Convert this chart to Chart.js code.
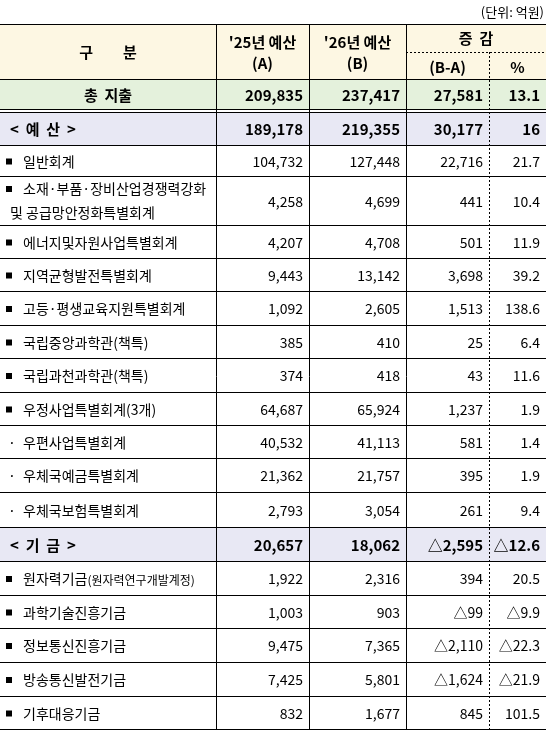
<!DOCTYPE html>
<html><head><meta charset="utf-8">
<script src="https://cdn.jsdelivr.net/npm/chart.js@4"></script>
<style>html,body{margin:0;padding:0;background:#fff}canvas{display:block}</style>
</head><body>
<canvas id="c" width="547" height="730"></canvas>
<script>
// ---- data ----
const categories = ["총  지출","<  예  산  >","일반회계","소재·부품·장비산업경쟁력강화|및 공급망안정화특별회계","에너지및자원사업특별회계","지역균형발전특별회계","고등·평생교육지원특별회계","국립중앙과학관(책특)","국립과천과학관(책특)","우정사업특별회계(3개)","우편사업특별회계","우체국예금특별회계","우체국보험특별회계","<  기  금  >","원자력기금","과학기술진흥기금","정보통신진흥기금","방송통신발전기금","기후대응기금"];
const budget25 = ["209,835","189,178","104,732","4,258","4,207","9,443","1,092","385","374","64,687","40,532","21,362","2,793","20,657","1,922","1,003","9,475","7,425","832"];
const budget26 = ["237,417","219,355","127,448","4,699","4,708","13,142","2,605","410","418","65,924","41,113","21,757","3,054","18,062","2,316","903","7,365","5,801","1,677"];
const diffBA = ["27,581","30,177","22,716","441","501","3,698","1,513","25","43","1,237","581","395","261","△2,595","394","△99","△2,110","△1,624","845"];
const diffPct = ["13.1","16","21.7","10.4","11.9","39.2","138.6","6.4","11.6","1.9","1.4","1.9","9.4","△12.6","20.5","△9.9","△22.3","△21.9","101.5"];
const headers = ["구　　분","'25년 예산|(A)","'26년 예산|(B)","증  감","(B-A)","%"];
const unitLabel = "(단위: 억원)";
const rowKind = ["t","s","b","b","b","b","b","b","b","b","d","d","d","s","b","b","b","b","b"];
// ---- layout ----
const colEdges = [0,216,309,406,489,546];
const rowEdges = [24,79,109,145,176,225,258,291,325,358,392,425,458,492,527,561,595,628,662,696,729];
const FONT = '"Noto Sans CJK KR","Noto Sans",sans-serif';

const tablePlugin = {
  id:'table',
  afterDraw(chart){
    const ctx = chart.ctx, X = chart.scales.x, Y = chart.scales.y;
    const px = v => X.getPixelForValue(v), py = v => Y.getPixelForValue(v);
    ctx.save();
    ctx.fillStyle = '#fdf7e3';
    ctx.fillRect(px(0), py(24), px(546)-px(0), py(79)-py(24));
    for (let i=0;i<categories.length;i++){
      let top = rowEdges[i+1], bot = rowEdges[i+2];
      if (i===1) top = 112;
      const k = rowKind[i];
      if (k==='t') ctx.fillStyle = '#e4f1dc';
      else if (k==='s') ctx.fillStyle = '#e8e8f4';
      else continue;
      ctx.fillRect(px(0), py(top), px(546)-px(0), py(bot)-py(top));
    }
    ctx.strokeStyle = '#000'; ctx.lineWidth = 1;
    const hline = (y,x0,x1)=>{ctx.beginPath();ctx.moveTo(px(x0),Math.round(py(y))+0.5);ctx.lineTo(px(x1),Math.round(py(y))+0.5);ctx.stroke();};
    const vline = (x,y0,y1)=>{ctx.beginPath();ctx.moveTo(Math.round(px(x))+0.5,py(y0));ctx.lineTo(Math.round(px(x))+0.5,py(y1));ctx.stroke();};
    rowEdges.forEach(y=>hline(y,0,546));
    hline(112,0,546);
    [216,309,406].forEach(x=>vline(x,24,729));
    ctx.setLineDash([2,2]);
    hline(52,406,546);
    vline(489,52,729);
    ctx.setLineDash([]);
    ctx.fillStyle = '#000'; ctx.textBaseline = 'middle';
    ctx.font = '13px '+FONT; ctx.textAlign = 'right';
    ctx.fillText(unitLabel, px(544), py(12));
    ctx.font = 'bold 15px '+FONT; ctx.textAlign='center';
    const hc = (i)=> (colEdges[i]+colEdges[i+1])/2;
    ctx.fillText(headers[0], px(hc(0)), py(52));
    [1,2].forEach(c=>{const p=headers[c].split('|');ctx.fillText(p[0],px(hc(c)),py(42));ctx.fillText(p[1],px(hc(c)),py(63));});
    ctx.fillText(headers[3], px(476), py(38));
    ctx.fillText(headers[4], px(hc(3)), py(67));
    ctx.fillText(headers[5], px(hc(4)), py(67));
    const cols = [budget25,budget26,diffBA,diffPct];
    for (let i=0;i<categories.length;i++){
      let top = rowEdges[i+1], bot = rowEdges[i+2];
      if (i===1) top = 112;
      const cy = py((top+bot)/2)+1, k = rowKind[i];
      const bold = (k==='t'||k==='s');
      ctx.font = (bold?'bold 15px ':'14px ')+FONT;
      if (k==='t'){ctx.textAlign='center';ctx.fillText(categories[i],px(hc(0)),cy);}
      else if (k==='s'){ctx.textAlign='left';ctx.fillText(categories[i],px(10),cy);}
      else {
        ctx.textAlign='left';
        const lines = categories[i].split('|');
        if (lines.length===2){
          ctx.fillRect(px(6),py(top+13)-3,6,6);
          ctx.fillText(lines[0],px(23),py(top+13));
          ctx.fillText(lines[1],px(10),py(top+37));
        } else {
          if (k==='b') ctx.fillRect(px(6),cy-3,6,6);
          else ctx.fillText('·',px(8),cy);
          ctx.fillText(lines[0],px(23),cy);
          if (i===14){const w=ctx.measureText(lines[0]).width;ctx.font='12px '+FONT;ctx.fillText('(원자력연구개발계정)',px(23)+w,cy+1);ctx.font='14px '+FONT;}
        }
      }
      ctx.textAlign='right';
      cols.forEach((arr,c)=>ctx.fillText(arr[i],px(colEdges[c+2])-6,cy));
    }
    ctx.restore();
  }
};
new Chart(document.getElementById('c'),{
  type:'scatter',
  data:{datasets:[{data:[]}]},
  options:{
    responsive:false, animation:false, devicePixelRatio:1,
    layout:{padding:0},
    plugins:{legend:{display:false},tooltip:{enabled:false}},
    scales:{
      x:{type:'linear',min:0,max:547,display:false},
      y:{type:'linear',min:0,max:730,reverse:true,display:false}
    }
  },
  plugins:[tablePlugin]
});
</script>
</body></html>
